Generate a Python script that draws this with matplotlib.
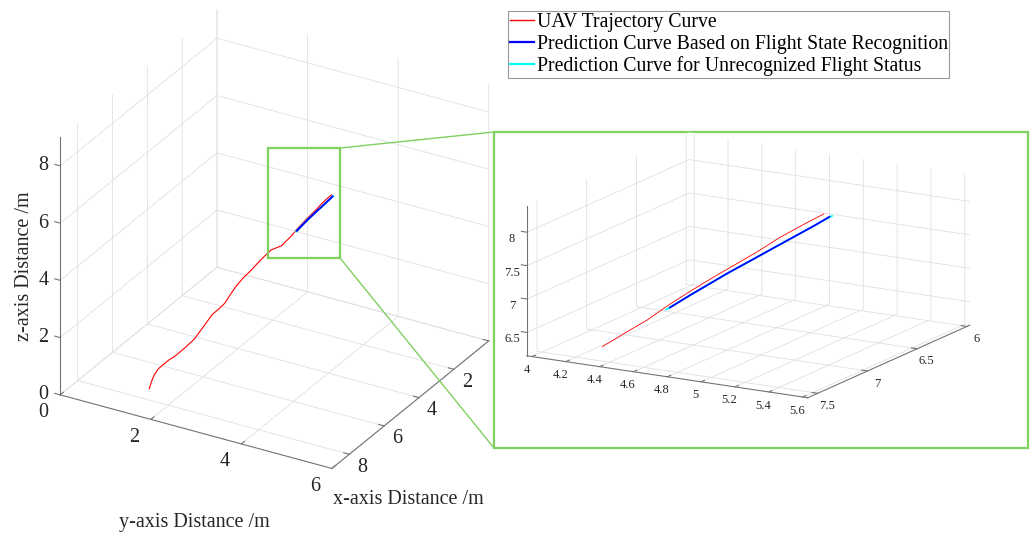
import numpy as np
import matplotlib.pyplot as plt
from matplotlib.lines import Line2D
from matplotlib.patches import Rectangle
from matplotlib.ticker import FixedLocator, FormatStrFormatter
from matplotlib.transforms import ScaledTranslation

plt.rcParams['font.family'] = ['Liberation Serif', 'DejaVu Serif']

# UAV trajectory (plot axis 1 = y distance, axis 2 = x distance, axis 3 = height)
traj_y = [1.35, 1.40, 1.46, 1.56, 1.68, 1.79, 1.90, 2.10, 2.33, 2.52, 2.73, 2.86, 3.00,
          3.12, 3.25, 3.40, 3.56, 3.78, 4.01, 4.24, 4.31, 4.38, 4.44, 4.51, 4.58, 4.65,
          4.72, 4.78, 4.85, 4.92]
traj_x = [7.40, 7.40, 7.40, 7.40, 7.39, 7.39, 7.39, 7.38, 7.38, 7.37, 7.37, 7.36, 7.36,
          7.35, 7.35, 7.34, 7.34, 7.33, 7.32, 7.30, 7.19, 7.09, 6.98, 6.87, 6.76, 6.65,
          6.55, 6.44, 6.33, 6.23]
traj_z = [0.00, 0.27, 0.53, 0.80, 1.01, 1.20, 1.35, 1.70, 2.13, 2.62, 3.17, 3.40, 3.67,
          4.02, 4.37, 4.72, 5.03, 5.50, 5.95, 6.19, 6.35, 6.50, 6.67, 6.84, 7.00, 7.15,
          7.30, 7.45, 7.59, 7.72]

# prediction with flight state recognition
pred_y = [4.45, 4.51, 4.57, 4.63, 4.69, 4.76, 4.83, 4.90, 4.94]
pred_x = [6.98, 6.88, 6.79, 6.70, 6.60, 6.50, 6.39, 6.28, 6.21]
pred_z = [6.64, 6.78, 6.91, 7.04, 7.16, 7.30, 7.44, 7.58, 7.67]

# prediction without state recognition
raw_y = [4.44, 4.51, 4.57, 4.63, 4.69, 4.76, 4.83, 4.90, 4.95]
raw_x = [7.00, 6.88, 6.79, 6.70, 6.60, 6.50, 6.39, 6.28, 6.20]
raw_z = [6.62, 6.78, 6.91, 7.04, 7.16, 7.30, 7.44, 7.58, 7.68]

y_ticks = [0, 2, 4, 6]
x_ticks = [0, 2, 4, 6, 8]
z_ticks = [0, 2, 4, 6, 8]

GREEN = '#80d060'
W, H = 1035, 539


def px(x, y):
    # figure pixel (from top-left) -> figure fraction
    return x / W, 1 - y / H


def style_3d(ax, tick_size, pad):
    for axis in (ax.xaxis, ax.yaxis, ax.zaxis):
        axis.pane.set_facecolor((1, 1, 1, 0))
        axis.pane.set_edgecolor((1, 1, 1, 0))
        axis._axinfo['grid']['color'] = (0.88, 0.88, 0.88, 1)
        axis._axinfo['grid']['linewidth'] = 0.6
        axis._axinfo['tick']['inward_factor'] = 0.0
        axis._axinfo['tick']['outward_factor'] = 0.25
        axis.line.set_color('0.45')
        axis.line.set_linewidth(0.8)
        axis.set_major_formatter(FormatStrFormatter('%g'))
    ax.tick_params(labelsize=tick_size, colors='0.15', pad=pad)
    ax.tick_params(color='0.45')
    ax.set_xlabel('')
    ax.set_ylabel('')
    ax.set_zlabel('')
    ax.set_proj_type('ortho')
    ax.zaxis.set_ticks_position('upper')


fig = plt.figure(figsize=(W / 100, H / 100), dpi=100)

# main view
ax = fig.add_axes([0.002, 0.0686, 0.513, 0.95], projection='3d')
ax.plot(traj_y, traj_x, traj_z, color='red', lw=0.8)
ax.plot(raw_y, raw_x, raw_z, color='cyan', lw=1.4)
ax.plot(pred_y, pred_x, pred_z, color='blue', lw=1.4)
ax.set_xlim(0, 6)
ax.set_ylim(9, 0)
ax.set_zlim(0, 9)
ax.xaxis.set_major_locator(FixedLocator(y_ticks))
ax.yaxis.set_major_locator(FixedLocator(x_ticks))
ax.zaxis.set_major_locator(FixedLocator(z_ticks))
ax.set_box_aspect((1, 1, 0.93), zoom=1.0066)
ax.view_init(elev=28, azim=-60)
style_3d(ax, 14.5, -2)
for axis in (ax.xaxis, ax.yaxis, ax.zaxis):
    axis.set_tick_params(labelbottom=False, labeltop=False)


def shifted(dx, dy):
    return ax.transData + ScaledTranslation(dx / 100, dy / 100, fig.dpi_scale_trans)


# tick labels placed next to the ticks, upright like the axis titles
lab_kw = dict(ha='center', va='center', fontsize=14.5, color='0.15')
for t in y_ticks:
    ax.text(t, 9, 0, '%g' % t, transform=shifted(-17, -18), **lab_kw)
for t in x_ticks:
    ax.text(6, t, 0, '%g' % t, transform=shifted(13, -13), **lab_kw)
for t in z_ticks:
    ax.text(0, 9, t, '%g' % t, transform=shifted(-17, 0), **lab_kw)

# white panel behind the zoomed view
X0, Y0 = px(494, 448)
X1, Y1 = px(1028, 132)
fig.add_artist(Rectangle((X0, Y0), X1 - X0, Y1 - Y0, transform=fig.transFigure,
                         facecolor='white', edgecolor=GREEN, lw=1.6, zorder=0.5))

# zoomed view
axi = fig.add_axes([0.459, 0.060, 0.516, 0.872], projection='3d')
axi.set_zorder(1)
axi.patch.set_visible(False)
axi.plot(traj_y, traj_x, traj_z, color='red', lw=0.6, axlim_clip=True)
axi.plot(raw_y, raw_x, raw_z, color='cyan', lw=1.3, axlim_clip=True)
axi.plot(pred_y, pred_x, pred_z, color='blue', lw=1.3, axlim_clip=True)
axi.set_xlim(3.97, 5.63)
axi.set_ylim(7.6, 5.97)
axi.set_zlim(6.15, 8.4)
axi.xaxis.set_major_locator(FixedLocator([4, 4.2, 4.4, 4.6, 4.8, 5, 5.2, 5.4, 5.6]))
axi.yaxis.set_major_locator(FixedLocator([6, 6.5, 7, 7.5]))
axi.zaxis.set_major_locator(FixedLocator([6.5, 7, 7.5, 8]))
axi.set_box_aspect((1, 1, 0.48))
axi.view_init(elev=15, azim=-60)
style_3d(axi, 9, -2)

# axis titles
fig.text(*px(25, 266), 'z-axis Distance /m', rotation=90, ha='center', va='center', fontsize=14.5, color='0.15')
fig.text(*px(194, 523), 'y-axis Distance /m', ha='center', va='center', fontsize=14.5, color='0.15')
fig.text(*px(408, 500), 'x-axis Distance /m', ha='center', va='center', fontsize=14.5, color='0.15')

# zoom frame on the main view and connectors
x0, y0 = px(268, 258)
x1, y1 = px(340, 148)
fig.add_artist(Rectangle((x0, y0), x1 - x0, y1 - y0, transform=fig.transFigure,
                         fill=False, edgecolor=GREEN, lw=1.6, zorder=2))
fig.add_artist(Line2D([x1, X0], [y1, Y1], transform=fig.transFigure, color=GREEN, lw=1.0, zorder=2))
fig.add_artist(Line2D([x1, X0], [y0, Y0], transform=fig.transFigure, color=GREEN, lw=1.0, zorder=2))

handles = [Line2D([], [], color='red', lw=1.0),
           Line2D([], [], color='blue', lw=1.6),
           Line2D([], [], color='cyan', lw=1.6)]
labels = ['UAV Trajectory Curve',
          'Prediction Curve Based on Flight State Recognition',
          'Prediction Curve for Unrecognized Flight Status']
leg = fig.legend(handles, labels, loc='upper left', bbox_to_anchor=px(508, 11),
                 fontsize=14.2, frameon=True, fancybox=False, edgecolor='0.5',
                 handlelength=1.25, handletextpad=0.12, borderpad=0.08,
                 labelspacing=0.15, borderaxespad=0)
leg.get_frame().set_linewidth(0.8)

fig.savefig('out.png', dpi=100)
